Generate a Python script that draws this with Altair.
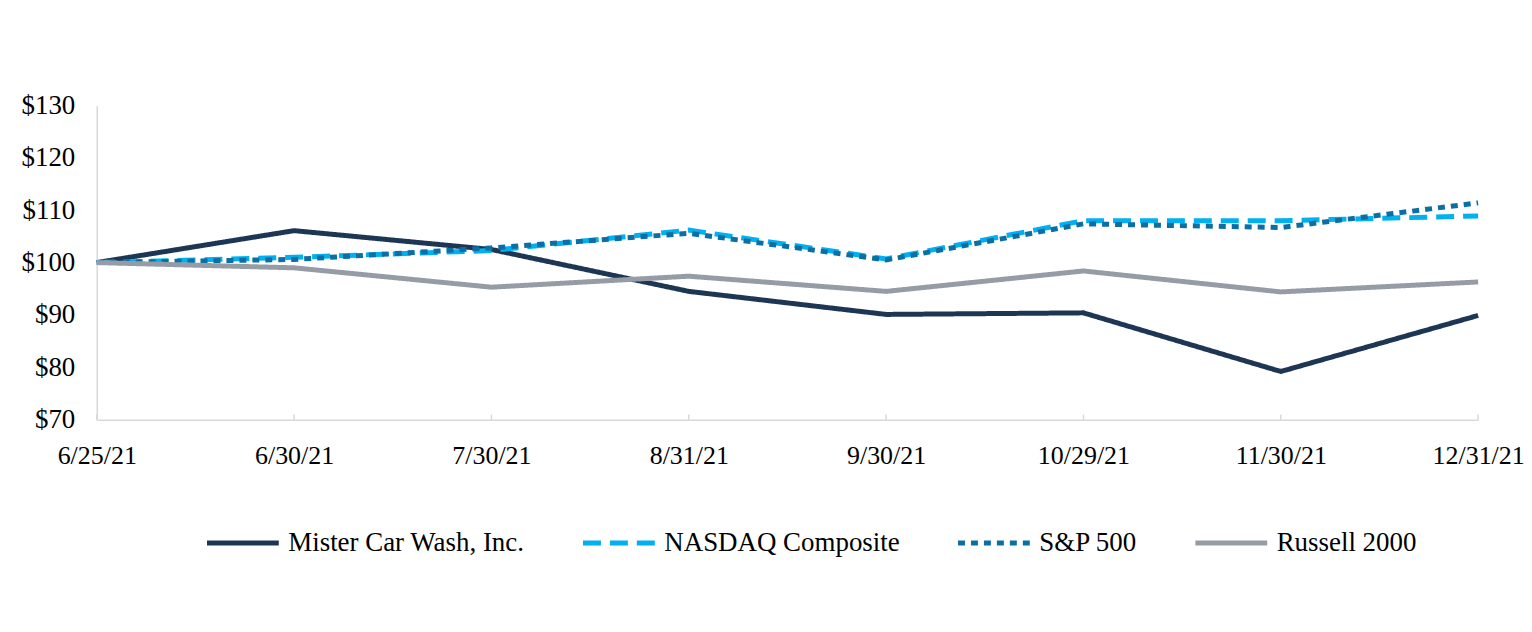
import altair as alt
import pandas as pd

dates = ["6/25/21", "6/30/21", "7/30/21", "8/31/21", "9/30/21", "10/29/21", "11/30/21", "12/31/21"]
series_names = ["Mister Car Wash, Inc.", "NASDAQ Composite", "S&P 500", "Russell 2000"]
mcw = [100.0, 106.1, 102.5, 94.5, 90.1, 90.4, 79.2, 89.9]
nasdaq = [100.0, 101.0, 102.3, 106.2, 100.7, 108.0, 108.0, 108.9]
sp500 = [100.0, 100.6, 102.8, 105.6, 100.5, 107.4, 106.7, 111.4]
russell = [100.0, 99.0, 95.3, 97.4, 94.5, 98.4, 94.4, 96.3]
y_ticks = [70, 80, 90, 100, 110, 120, 130]

colors = ["#1c3654", "#00b0f0", "#0b6fa4", "#959ca6"]
dashes = [[1, 0], [18, 9], [7, 6], [1, 0]]

rows = []
for name, vals in zip(series_names, [mcw, nasdaq, sp500, russell]):
    for i, (d, v) in enumerate(zip(dates, vals)):
        rows.append({"date": d, "idx": i, "value": v, "series": name})
df = pd.DataFrame(rows)
ticks_df = pd.DataFrame({"date": dates})

FONT = "Liberation Serif"
FS = 27

x_enc = alt.X("date:N", sort=dates, scale=alt.Scale(type="point", padding=0),
              axis=alt.Axis(title=None, labelAngle=0, labelAlign="center", labelFont=FONT,
                            labelFontSize=26, labelColor="#000000", labelPadding=36,
                            ticks=False, domainColor="#d9d9d9", domainWidth=1.5, grid=False,
                            labelOverlap=False, labelFlush=False))

legend_kw = dict(title=None, orient="none", direction="horizontal",
                 legendX=108, legendY=400, padding=0,
                 symbolType="stroke", symbolSize=5184,
                 symbolStrokeWidth=5, labelFont=FONT,
                 labelFontSize=FS, labelColor="#000000", labelLimit=0,
                 labelOffset=7, columnPadding=47)

lines = alt.Chart(df).mark_line(strokeWidth=5).encode(
    x=x_enc,
    y=alt.Y("value:Q", scale=alt.Scale(domain=[70, 130], nice=False, zero=False),
            axis=alt.Axis(title=None, values=y_ticks, labelExpr="'$' + datum.value",
                          labelFont=FONT, labelFontSize=FS, labelColor="#000000",
                          labelPadding=22, ticks=False, domainColor="#d9d9d9",
                          domainWidth=1.5, gridColor="#eeeeee", gridWidth=1.5)),
    color=alt.Color("series:N", sort=series_names,
                    scale=alt.Scale(domain=series_names, range=colors),
                    legend=alt.Legend(**legend_kw)),
    strokeDash=alt.StrokeDash("series:N", sort=series_names,
                              scale=alt.Scale(domain=series_names, range=dashes),
                              legend=alt.Legend(**legend_kw)),
    order=alt.Order("idx:Q"),
)

tick_rules = alt.Chart(ticks_df).mark_rule(color="#d9d9d9", strokeWidth=1.5).encode(
    x=alt.X("date:N", sort=dates),
    y=alt.datum(70),
    y2=alt.datum(71),
)

chart = alt.layer(tick_rules, lines).properties(
    width=1385, height=315,
    autosize=alt.AutoSizeParams(type="none"),
    padding={"left": 89, "top": 97, "right": 46, "bottom": 160},
).configure_view(stroke=None)

chart.save("out.html", embed_options={"renderer": "svg", "actions": False})
